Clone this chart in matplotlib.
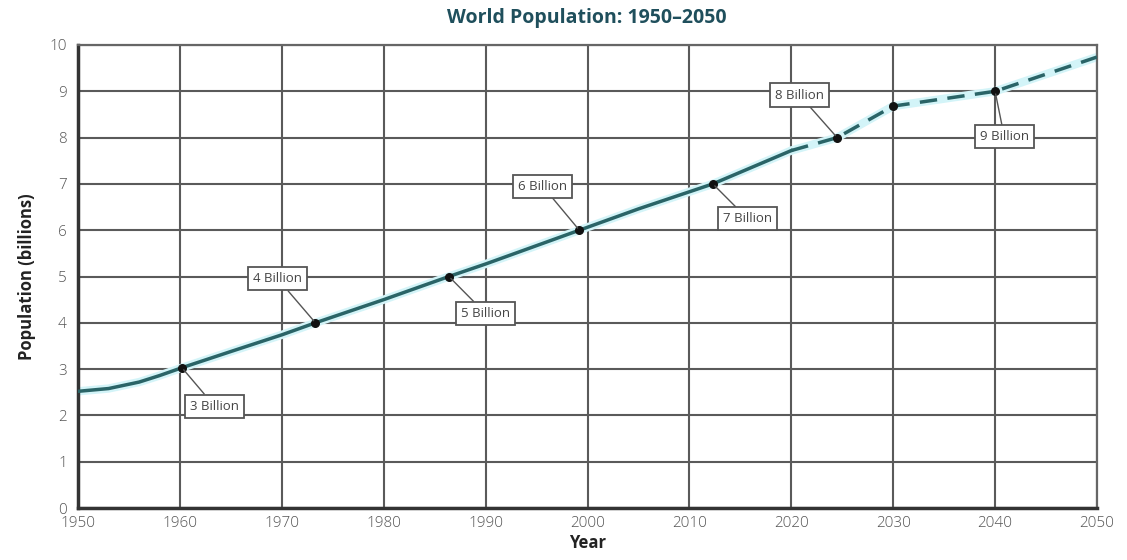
import matplotlib
matplotlib.use("Agg")
import matplotlib.pyplot as plt

# ---- data ----
years_hist = [1950, 1953, 1956, 1958, 1960.2, 1965, 1970, 1973.3, 1980, 1986.4, 1990, 1999.2, 2005, 2012.3, 2020]
pop_hist = [2.52, 2.58, 2.72, 2.86, 3.03, 3.38, 3.74, 4.0, 4.5, 5.0, 5.27, 6.0, 6.46, 7.0, 7.72]
years_proj = [2020, 2024.5, 2030, 2040, 2050]
pop_proj = [7.72, 8.0, 8.68, 9.0, 9.74]

milestone_years = [1960.2, 1973.3, 1986.4, 1999.2, 2012.3, 2024.5, 2030, 2040]
milestone_pop = [3.03, 4.0, 5.0, 6.0, 7.0, 8.0, 8.68, 9.0]

label_texts = ["3 Billion", "4 Billion", "5 Billion", "6 Billion", "7 Billion", "8 Billion", "9 Billion"]
label_points = [(1960.2, 3.03), (1973.3, 4.0), (1986.4, 5.0), (1999.2, 6.0), (2012.3, 7.0), (2024.5, 8.0), (2040, 9.0)]
label_boxes = [(1963.4, 2.2), (1969.6, 4.95), (1990.0, 4.2), (1995.6, 6.95), (2015.7, 6.25), (2020.8, 8.92), (2040.9, 8.02)]

x_ticks = list(range(1950, 2051, 10))
y_ticks = list(range(0, 11))

title = "World Population: 1950\u20132050"
xlabel = "Year"
ylabel = "Population (billions)"

# ---- figure ----
plt.rcParams['font.family'] = ['Open Sans', 'DejaVu Sans']
W, H = 1127, 560
fig = plt.figure(figsize=(W / 100, H / 100), dpi=100)
ax = fig.add_axes([78 / W, 1 - 508 / H, (1097 - 78) / W, (508 - 45) / H])

ax.set_xlim(1950, 2050)
ax.set_ylim(0, 10)
ax.set_xticks(x_ticks)
ax.set_yticks(y_ticks)
ax.grid(True, color="#5a5a5a", linewidth=1.5, zorder=1)
ax.set_axisbelow(True)
ax.tick_params(length=0, labelsize=11, colors="#555555", pad=6)
ax.tick_params(axis='y', pad=8)
for lab in ax.get_xticklabels() + ax.get_yticklabels():
    lab.set_fontweight("light")

for s in ["top", "right"]:
    ax.spines[s].set_color("#666666")
    ax.spines[s].set_linewidth(1.6)
for s in ["left", "bottom"]:
    ax.spines[s].set_color("#333333")
    ax.spines[s].set_linewidth(2.5)

# glow + line
glow = "#d3f4f8"
line_c = "#2a6467"
ax.plot(years_hist, pop_hist, color=glow, linewidth=6, solid_capstyle="round", zorder=2)
ax.plot(years_proj, pop_proj, color=glow, linewidth=6, solid_capstyle="round", zorder=2)
ax.plot(years_hist, pop_hist, color=line_c, linewidth=2.5, zorder=3)
ax.plot(years_proj, pop_proj, color=line_c, linewidth=2.5, linestyle=(0, (5, 3)), zorder=3)
ax.scatter(milestone_years, milestone_pop, s=30, color="#111111", zorder=5)

for txt, pt, bx in zip(label_texts, label_points, label_boxes):
    ax.annotate(txt, xy=pt, xytext=bx, ha="center", va="center",
                fontsize=9.5, color="#444444", zorder=6,
                bbox=dict(boxstyle="square,pad=0.38", fc="white", ec="#555555", lw=1.3),
                arrowprops=dict(arrowstyle="-", color="#555555", lw=1.0,
                                shrinkA=0, shrinkB=2))

ax.set_xlabel(xlabel, fontsize=12, fontweight="bold", color="#222222", labelpad=2)
ax.set_ylabel(ylabel, fontsize=12, fontweight="bold", color="#222222", labelpad=10)
fig.text(587 / W, 1 - 18 / H, title, ha="center", va="center",
         fontsize=14, fontweight="bold", color="#1f4f5c")

fig.savefig("out.png", dpi=100, facecolor="white")
